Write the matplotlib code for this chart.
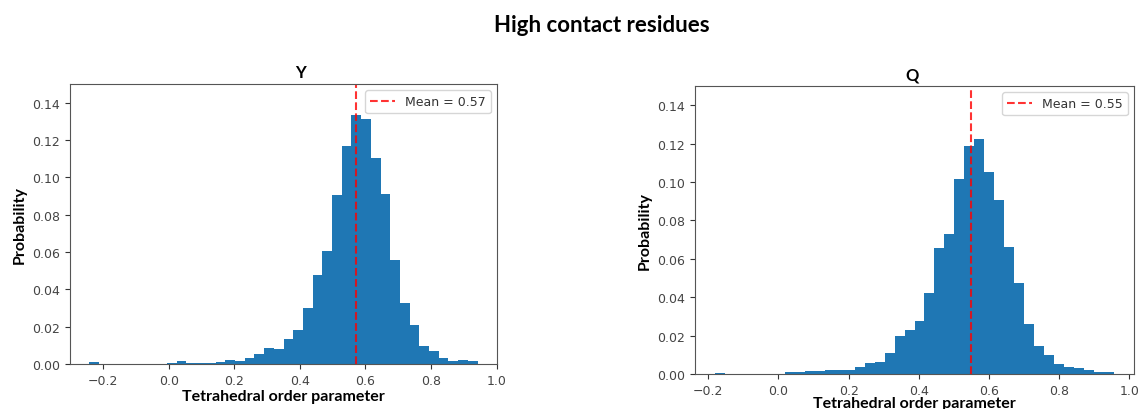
import numpy as np
import matplotlib
matplotlib.use("Agg")
import matplotlib.pyplot as plt

# ---- data ----
y_range = (-0.242, 0.942)
y_probs = [0.0010, 0, 0, 0, 0, 0, 0, 0, 0.0008, 0.0015,
           0.0008, 0.0008, 0.0008, 0.0010, 0.0023, 0.0016, 0.0030, 0.0052, 0.0088, 0.0080,
           0.0134, 0.0184, 0.0300, 0.0478, 0.0603, 0.0904, 0.1167, 0.1334, 0.1312, 0.1105,
           0.0913, 0.0555, 0.0328, 0.0211, 0.0095, 0.0072, 0.0030, 0.0018, 0.0023, 0.0014]
y_mean = 0.57

q_range = (-0.181, 0.957)
q_probs = [0.0007, 0, 0, 0, 0, 0, 0, 0.0009, 0.0009, 0.0014,
           0.0014, 0.0021, 0.0021, 0.0021, 0.0035, 0.0056, 0.0065, 0.0110, 0.0200, 0.0230,
           0.0277, 0.0422, 0.0655, 0.0727, 0.1016, 0.1187, 0.1224, 0.1050, 0.0905, 0.0662,
           0.0476, 0.0262, 0.0146, 0.0099, 0.0050, 0.0037, 0.0030, 0.0023, 0.0009, 0.0009]
q_mean = 0.55

titles = ["Y", "Q"]
suptitle = "High contact residues"
xlabel = "Tetrahedral order parameter"
ylabel = "Probability"

BOLD = ["Lato", "DejaVu Sans"]

fig = plt.figure(figsize=(11.38, 4.10), dpi=100)
axL = fig.add_axes([70/1138, 45/410, 427/1138, 280/410])
axR = fig.add_axes([695/1138, 35/410, 439/1138, 288/410])

def draw(ax, rng, probs, mean, title, title_x, xlab_pad, ylab_pad):
    edges = np.linspace(rng[0], rng[1], len(probs) + 1)
    centers = (edges[:-1] + edges[1:]) / 2
    ax.hist(centers, bins=edges, weights=probs, color="#1f77b4")
    ax.axvline(mean, color="red", linestyle="--", linewidth=1.5, alpha=0.8,
               label=f"Mean = {mean:.2f}")
    ax.set_ylim(0, 0.15)
    ax.set_yticks(np.arange(0, 0.141, 0.02))
    ax.set_xticks(np.arange(-0.2, 1.01, 0.2))
    ax.tick_params(labelsize=9, colors="#333333", labelcolor="#444444")
    for s in ax.spines.values():
        s.set_color("#555555")
    ax.legend(loc="upper right", fontsize=9, labelcolor="#333333")
    ax.set_title(title, family=BOLD, fontweight="bold", fontsize=12, x=title_x, pad=5)
    ax.set_xlabel(xlabel, family=BOLD, fontweight="bold", fontsize=11.5, labelpad=xlab_pad)
    ax.set_ylabel(ylabel, family=BOLD, fontweight="bold", fontsize=11.5, labelpad=ylab_pad)

draw(axL, y_range, y_probs, y_mean, titles[0], 0.54, 2, 4)
draw(axR, q_range, q_probs, q_mean, titles[1], 0.495, -0.5, 4)

fig.text(602/1138, 1 - 25/410, suptitle, family=BOLD, fontweight="bold",
         fontsize=16, ha="center", va="center")

fig.savefig("out.png", dpi=100)
